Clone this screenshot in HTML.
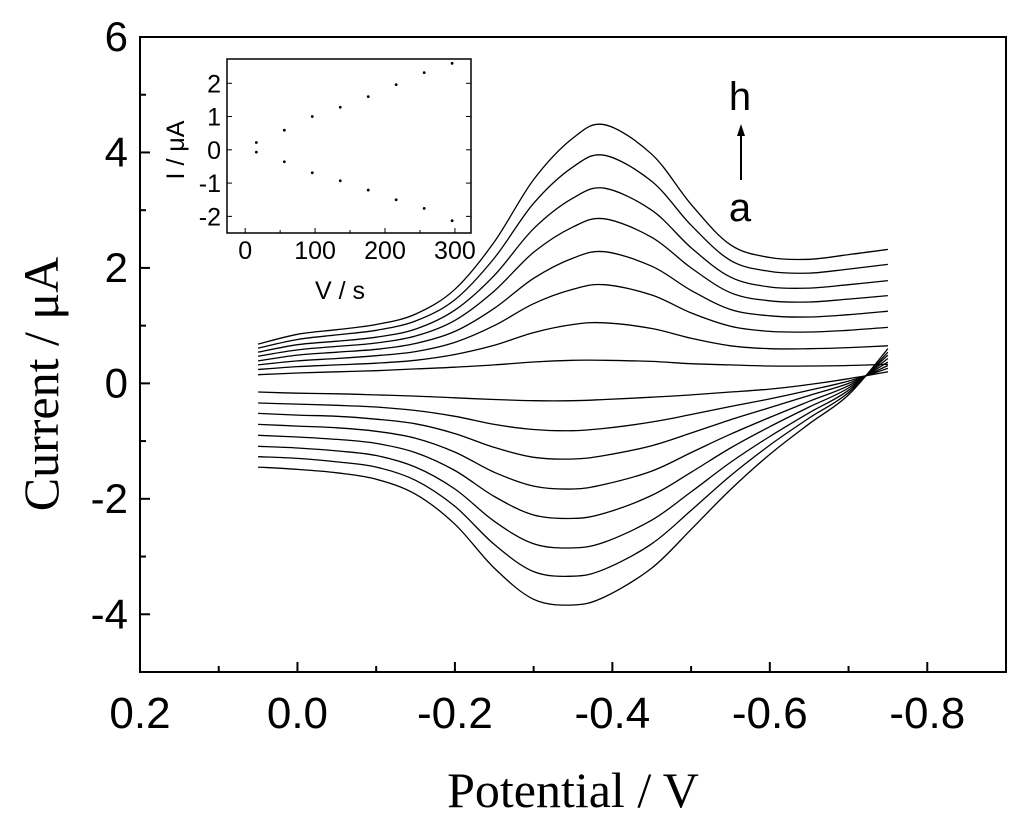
<!DOCTYPE html>
<html><head><meta charset="utf-8"><style>
html,body{margin:0;padding:0;background:#fff;}
svg{display:block;}
</style></head><body>
<svg id="chart" width="1024" height="822" xmlns="http://www.w3.org/2000/svg" font-family="Liberation Sans, Arial, sans-serif">
<rect x="0" y="0" width="1024" height="822" fill="#fff"/>
<g id="main"></g>
<g id="inset"></g>
<text x="573" y="807" text-anchor="middle" font-family="Liberation Serif, serif" font-size="50">Potential / V</text>
<text transform="translate(58,384) rotate(-90)" text-anchor="middle" font-family="Liberation Serif, serif" font-size="50">Current / μA</text>
<g>
<line x1="741" y1="180" x2="741" y2="132" stroke="#000" stroke-width="2"/>
<polygon points="741,124 737,136 745,136" fill="#000"/>
</g>
<text x="740" y="110" text-anchor="middle" font-size="40">h</text>
<text x="740" y="221" text-anchor="middle" font-size="40">a</text>
</svg>
<script>
// ---- main chart data ----
const potentials = [0.05,0.0,-0.05,-0.1,-0.15,-0.2,-0.25,-0.3,-0.35,-0.39,-0.45,-0.5,-0.55,-0.6,-0.65,-0.7,-0.75];
const curveLabels = ['a','b','c','d','e','f','g','h'];
const upperA = [0.15,0.18,0.20,0.22,0.25,0.28,0.32,0.37,0.40,0.40,0.38,0.34,0.32,0.30,0.30,0.31,0.33];
const upperB = [0.24,0.29,0.32,0.35,0.40,0.50,0.66,0.88,1.02,1.05,0.95,0.78,0.65,0.60,0.60,0.62,0.65];
const upperC = [0.32,0.39,0.43,0.48,0.55,0.71,1.00,1.38,1.63,1.71,1.53,1.22,0.99,0.90,0.89,0.92,0.97];
const upperD = [0.39,0.49,0.54,0.59,0.69,0.90,1.30,1.82,2.17,2.28,2.03,1.61,1.28,1.17,1.15,1.19,1.25];
const upperE = [0.47,0.58,0.64,0.70,0.82,1.09,1.60,2.27,2.71,2.85,2.53,2.00,1.57,1.43,1.41,1.46,1.52];
const upperF = [0.54,0.67,0.73,0.80,0.94,1.27,1.87,2.68,3.21,3.38,3.00,2.35,1.84,1.67,1.65,1.71,1.78];
const upperG = [0.61,0.76,0.84,0.92,1.08,1.45,2.17,3.12,3.75,3.95,3.50,2.74,2.13,1.94,1.91,1.98,2.06];
const upperH = [0.68,0.85,0.93,1.02,1.20,1.63,2.45,3.53,4.25,4.48,3.97,3.10,2.40,2.18,2.15,2.23,2.32];
const lowerA = [-0.15,-0.17,-0.18,-0.20,-0.22,-0.25,-0.28,-0.30,-0.30,-0.28,-0.24,-0.20,-0.15,-0.10,-0.02,0.08,0.20];
const lowerB = [-0.34,-0.36,-0.38,-0.41,-0.47,-0.57,-0.71,-0.80,-0.82,-0.78,-0.67,-0.54,-0.40,-0.27,-0.12,0.04,0.26];
const lowerC = [-0.52,-0.55,-0.57,-0.62,-0.70,-0.87,-1.11,-1.28,-1.31,-1.25,-1.08,-0.86,-0.63,-0.42,-0.21,0.00,0.31];
const lowerD = [-0.71,-0.74,-0.77,-0.83,-0.95,-1.19,-1.54,-1.78,-1.83,-1.75,-1.52,-1.20,-0.88,-0.59,-0.31,-0.04,0.37];
const lowerE = [-0.90,-0.93,-0.97,-1.04,-1.20,-1.51,-1.96,-2.28,-2.34,-2.25,-1.94,-1.54,-1.12,-0.75,-0.41,-0.08,0.43];
const lowerF = [-1.09,-1.12,-1.17,-1.25,-1.45,-1.83,-2.39,-2.78,-2.85,-2.75,-2.37,-1.88,-1.37,-0.92,-0.51,-0.12,0.49];
const lowerG = [-1.27,-1.30,-1.36,-1.45,-1.68,-2.13,-2.79,-3.26,-3.34,-3.22,-2.78,-2.20,-1.60,-1.07,-0.60,-0.16,0.54];
const lowerH = [-1.45,-1.49,-1.55,-1.66,-1.92,-2.44,-3.20,-3.74,-3.84,-3.70,-3.20,-2.53,-1.84,-1.23,-0.70,-0.20,0.60];
const xTickLabels = ['0.2','0.0','-0.2','-0.4','-0.6','-0.8'];
const xTickValues = [0.2,0.0,-0.2,-0.4,-0.6,-0.8];
const yTickLabels = ['6','4','2','0','-2','-4'];
const yTickValues = [6,4,2,0,-2,-4];
// ---- inset data ----
const insetRates = [16,56,96,136,176,216,256,296];
const insetAnodic = [0.22,0.59,1.0,1.28,1.6,1.96,2.32,2.6];
const insetCathodic = [-0.07,-0.36,-0.69,-0.93,-1.21,-1.5,-1.76,-2.13];
const insetXTicks = [0,100,200,300];
const insetYTicks = [2,1,0,-1,-2];

const NS='http://www.w3.org/2000/svg';
function mk(tag,attrs,parent){const e=document.createElementNS(NS,tag);for(const k in attrs)e.setAttribute(k,attrs[k]);parent.appendChild(e);return e;}

const X0=140,X1=1006,Y0=37,Y1=672;
const xmin=0.2,xmax=-0.9,ymin=-5,ymax=6;
const sx=v=>X0+(v-xmin)/(xmax-xmin)*(X1-X0);
const sy=v=>Y1-(v-ymin)/(ymax-ymin)*(Y1-Y0);
const main=document.getElementById('main');

function smoothPath(pts){
  let d='M'+pts[0][0].toFixed(1)+','+pts[0][1].toFixed(1);
  for(let i=0;i<pts.length-1;i++){
    const p0=pts[Math.max(0,i-1)],p1=pts[i],p2=pts[i+1],p3=pts[Math.min(pts.length-1,i+2)];
    const c1x=p1[0]+(p2[0]-p0[0])/6,c1y=p1[1]+(p2[1]-p0[1])/6;
    const c2x=p2[0]-(p3[0]-p1[0])/6,c2y=p2[1]-(p3[1]-p1[1])/6;
    d+=' C'+c1x.toFixed(1)+','+c1y.toFixed(1)+' '+c2x.toFixed(1)+','+c2y.toFixed(1)+' '+p2[0].toFixed(1)+','+p2[1].toFixed(1);
  }
  return d;
}
const uppers=[upperA,upperB,upperC,upperD,upperE,upperF,upperG,upperH];
const lowers=[lowerA,lowerB,lowerC,lowerD,lowerE,lowerF,lowerG,lowerH];
for(let c=0;c<uppers.length;c++){
  const up=[],lo=[];
  for(let i=0;i<potentials.length;i++){up.push([sx(potentials[i]),sy(uppers[c][i])]);lo.push([sx(potentials[i]),sy(lowers[c][i])]);}
  const d=smoothPath(up)+' '+smoothPath(lo);
  const p=mk('path',{d:d,fill:'none',stroke:'#000','stroke-width':1.3},main);
  
  
}
const frame=mk('rect',{x:X0,y:Y0,width:X1-X0,height:Y1-Y0,fill:'none',stroke:'#000','stroke-width':2},main);


for(let i=0;i<xTickValues.length;i++){
  const x=sx(xTickValues[i]);
  mk('line',{x1:x,y1:Y1,x2:x,y2:Y1-10,stroke:'#000','stroke-width':2},main);
  const t=mk('text',{x:x,y:728,'text-anchor':'middle','font-size':44},main);
  t.textContent=xTickLabels[i];
  
  
}
for(let v=0.1;v>-0.9;v-=0.2){const x=sx(v);mk('line',{x1:x,y1:Y1,x2:x,y2:Y1-6,stroke:'#000','stroke-width':2},main);}
for(let i=0;i<yTickValues.length;i++){
  const y=sy(yTickValues[i]);
  mk('line',{x1:X0,y1:y,x2:X0+10,y2:y,stroke:'#000','stroke-width':2},main);
  const t=mk('text',{x:128,y:y+14,'text-anchor':'end','font-size':42},main);
  t.textContent=yTickLabels[i];
  
  
}
for(let v=5;v>-5;v-=2){const y=sy(v);mk('line',{x1:X0,y1:y,x2:X0+6,y2:y,stroke:'#000','stroke-width':2},main);}

// inset
const ins=document.getElementById('inset');
const IX0=227,IX1=471,IY0=59,IY1=233;
const isx=v=>IX0+(v+26)/(323+26)*(IX1-IX0);
const isy=v=>IY1-(v+2.5)/(2.73+2.5)*(IY1-IY0);
const ibg=mk('rect',{x:IX0,y:IY0,width:IX1-IX0,height:IY1-IY0,fill:'#fff',stroke:'#000','stroke-width':1.5},ins);


for(let i=0;i<insetXTicks.length;i++){
  const x=isx(insetXTicks[i]);
  mk('line',{x1:x,y1:IY1,x2:x,y2:IY1-5,stroke:'#000','stroke-width':1},ins);
  const x2=isx(insetXTicks[i]+50);
  if(x2<IX1)mk('line',{x1:x2,y1:IY1,x2:x2,y2:IY1-3,stroke:'#000','stroke-width':1},ins);
  const t=mk('text',{x:x,y:259,'text-anchor':'middle','font-size':25},ins);
  t.textContent=String(insetXTicks[i]);
  
  
}
for(let i=0;i<insetYTicks.length;i++){
  const y=isy(insetYTicks[i]);
  mk('line',{x1:IX0,y1:y,x2:IX0+5,y2:y,stroke:'#000','stroke-width':1},ins);
  mk('line',{x1:IX1,y1:y,x2:IX1-5,y2:y,stroke:'#000','stroke-width':1},ins);
  const t=mk('text',{x:221,y:y+9,'text-anchor':'end','font-size':25},ins);
  t.textContent=String(insetYTicks[i]);
  
  
}
for(let i=0;i<insetRates.length;i++){
  const a=mk('circle',{cx:isx(insetRates[i]),cy:isy(insetAnodic[i]),r:1.4,fill:'#000'},ins);
  
  
  const c=mk('circle',{cx:isx(insetRates[i]),cy:isy(insetCathodic[i]),r:1.4,fill:'#000'},ins);
  
  
}
const ixt=mk('text',{x:340,y:299,'text-anchor':'middle','font-size':25},ins);
ixt.textContent='V / s';


const iyt=mk('text',{transform:'translate(184,150) rotate(-90)','text-anchor':'middle','font-size':25},ins);
iyt.textContent='I / μA';


</script>
</body></html>
